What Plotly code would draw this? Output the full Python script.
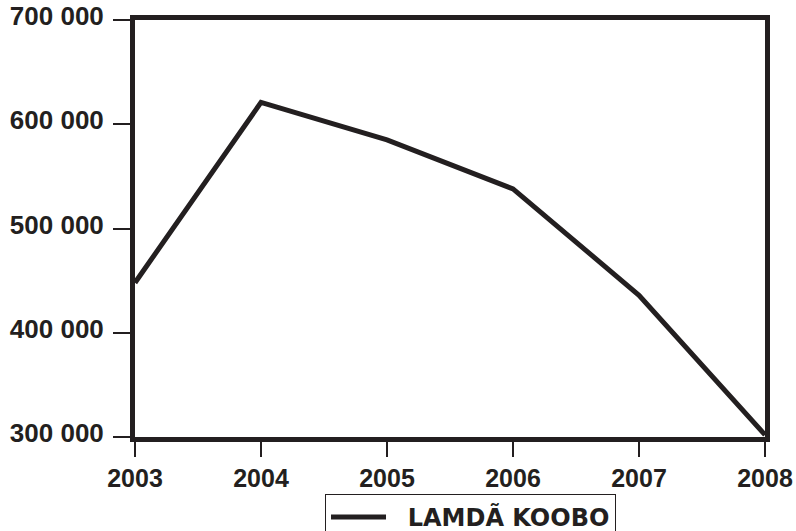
import plotly.graph_objects as go

years = [2003, 2004, 2005, 2006, 2007, 2008]
values = [448000, 621000, 585000, 538000, 436000, 302000]
series_name = "LAMDÃ KOOBO"
y_ticks = [300000, 400000, 500000, 600000, 700000]
y_tick_labels = ["300 000", "400 000", "500 000", "600 000", "700 000"]

ink = "#231f20"

fig = go.Figure()
fig.add_trace(go.Scatter(
    x=years, y=values, mode="lines", name="\u00a0\u00a0" + series_name,
    line=dict(color=ink, width=5),
))

fig.update_layout(
    width=796, height=531,
    paper_bgcolor="white", plot_bgcolor="white",
    margin=dict(l=135, r=31, t=20, b=94, autoexpand=False),
    showlegend=True,
    legend=dict(
        orientation="h", x=0.3016, xanchor="left", y=-0.1367, yanchor="top",
        bordercolor=ink, borderwidth=1, bgcolor="white",
        font=dict(family="DejaVu Sans", size=24, color=ink, weight="bold"),
        itemwidth=55,
    ),
    xaxis=dict(
        range=[2003, 2008], tickvals=years, ticktext=[str(y) for y in years],
        showline=True, linecolor=ink, linewidth=5, mirror=True,
        ticks="outside", ticklen=15, tickwidth=2, tickcolor=ink,
        showgrid=False, zeroline=False,
        tickfont=dict(family="Liberation Sans", size=25, color=ink, weight="bold"),
    ),
    yaxis=dict(
        range=[300000, 700000], tickvals=y_ticks, ticktext=y_tick_labels,
        showline=True, linecolor=ink, linewidth=5, mirror=True,
        ticks="outside", ticklen=17, tickwidth=2, tickcolor=ink,
        showgrid=False, zeroline=False, ticklabelshift=-4, ticklabelstandoff=4,
        tickfont=dict(family="Liberation Sans", size=26, color=ink, weight="bold"),
    ),
)

fig.write_html(
    "out.html",
    config={"displayModeBar": False},
    post_script="document.body.style.margin='0';document.body.style.overflow='hidden';",
)
